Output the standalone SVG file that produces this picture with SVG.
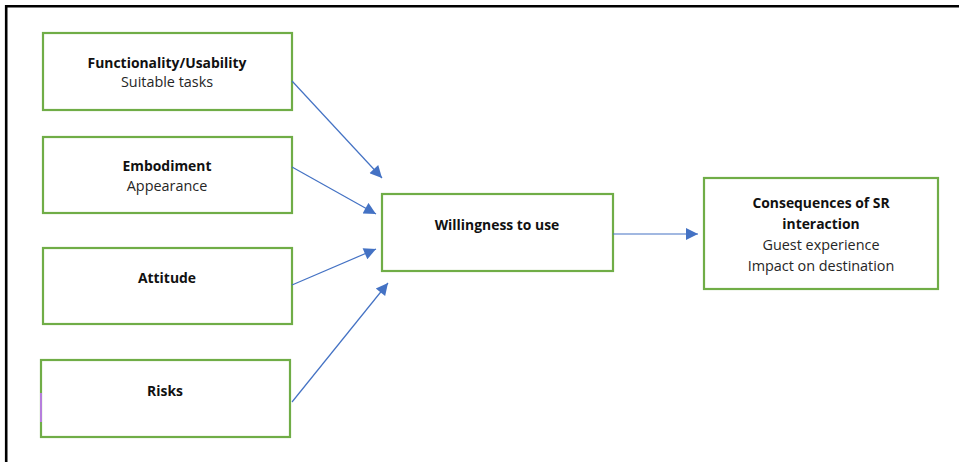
<svg xmlns="http://www.w3.org/2000/svg" width="959" height="462" viewBox="0 0 959 462">
<style>
.box{fill:#fff;stroke:#70AD47;stroke-width:2.2}
.t{font-family:"Open Sans","Liberation Sans",sans-serif;font-size:14.4px;fill:#262626;text-anchor:middle}
.b{font-weight:bold;font-size:13.9px;fill:#111}
.c{stroke:#4472C4;stroke-width:1.2;fill:none;marker-end:url(#ah)}
</style>
<defs>
<marker id="ah" viewBox="0 0 10 10" refX="10" refY="5" markerWidth="14" markerHeight="12" markerUnits="userSpaceOnUse" orient="auto">
<path d="M0,0 L10,5 L0,10 z" fill="#4472C4"/>
</marker>
</defs>
<rect width="959" height="462" fill="#fff"/>
<path d="M6.2,462 V6.2 H959" fill="none" stroke="#000" stroke-width="2.6"/>
<g id="functionality">
<rect class="box" x="43" y="33" width="249" height="77"/>
<text class="t b" x="167" y="68">Functionality/Usability</text>
<text class="t" x="167" y="87">Suitable tasks</text>
</g>
<g id="embodiment">
<rect class="box" x="43" y="137" width="249" height="76"/>
<text class="t b" x="167" y="171">Embodiment</text>
<text class="t" x="167" y="191">Appearance</text>
</g>
<g id="attitude">
<rect class="box" x="43" y="248" width="249" height="76"/>
<text class="t b" x="167" y="283">Attitude</text>
</g>
<g id="risks">
<rect class="box" x="41" y="360" width="249" height="77"/>
<line x1="41" y1="393" x2="41" y2="422" stroke="#B57EDC" stroke-width="2"/>
<text class="t b" x="165" y="396">Risks</text>
</g>
<g id="willingness">
<rect class="box" x="382" y="194" width="231" height="77"/>
<text class="t b" x="497" y="230">Willingness to use</text>
</g>
<g id="consequences">
<rect class="box" x="704" y="178" width="234" height="111"/>
<text class="t b" x="821" y="208">Consequences of SR</text>
<text class="t b" x="821" y="229">interaction</text>
<text class="t" x="821" y="250">Guest experience</text>
<text class="t" x="821" y="271">Impact on destination</text>
</g>
<g id="connectors">
<line class="c" x1="292" y1="81" x2="382" y2="178"/>
<line class="c" x1="292" y1="167" x2="376" y2="214"/>
<line class="c" x1="292" y1="285" x2="376" y2="249"/>
<line class="c" x1="292" y1="402" x2="388" y2="283"/>
<line class="c" x1="613" y1="234" x2="698" y2="234"/>
</g>
</svg>
